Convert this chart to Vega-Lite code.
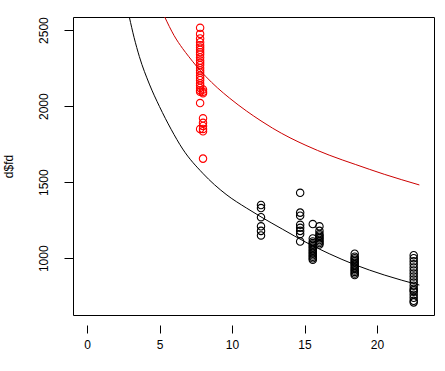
{
  "$schema": "https://vega.github.io/schema/vega-lite/v6.json",
  "autosize": "none",
  "width": 361,
  "height": 298,
  "padding": {"left": 73, "top": 17, "right": 11, "bottom": 56},
  "background": "white",
  "config": {
    "view": {"stroke": "black", "strokeWidth": 1},
    "font": "Liberation Sans",
    "axis": {"grid": false, "domain": false, "tickColor": "black", "labelColor": "black", "titleColor": "black", "labelFont": "Liberation Sans", "titleFont": "Liberation Sans", "labelFontSize": 12, "titleFontSize": 12, "titleFontWeight": "normal"}
  },
  "datasets": {
    "pts": [
      {"x": 7.8, "y": 2515, "g": "red"}, {"x": 7.8, "y": 2475, "g": "red"}, {"x": 7.8, "y": 2445, "g": "red"}, {"x": 7.8, "y": 2420, "g": "red"}, {"x": 7.8, "y": 2400, "g": "red"}, {"x": 7.8, "y": 2385, "g": "red"}, {"x": 7.8, "y": 2370, "g": "red"}, {"x": 7.8, "y": 2355, "g": "red"}, {"x": 7.8, "y": 2340, "g": "red"}, {"x": 7.8, "y": 2320, "g": "red"}, {"x": 7.8, "y": 2300, "g": "red"}, {"x": 7.8, "y": 2285, "g": "red"}, {"x": 7.8, "y": 2270, "g": "red"}, {"x": 7.8, "y": 2250, "g": "red"}, {"x": 7.8, "y": 2235, "g": "red"}, {"x": 7.8, "y": 2220, "g": "red"}, {"x": 7.8, "y": 2200, "g": "red"}, {"x": 7.8, "y": 2185, "g": "red"}, {"x": 7.8, "y": 2170, "g": "red"}, {"x": 7.8, "y": 2150, "g": "red"}, {"x": 7.8, "y": 2135, "g": "red"}, {"x": 7.8, "y": 2120, "g": "red"}, {"x": 7.8, "y": 2105, "g": "red"}, {"x": 7.8, "y": 2095, "g": "red"}, {"x": 7.8, "y": 2020, "g": "red"}, {"x": 7.8, "y": 1850, "g": "red"},
      {"x": 8.0, "y": 2110, "g": "red"}, {"x": 8.0, "y": 2095, "g": "red"}, {"x": 8.0, "y": 2085, "g": "red"}, {"x": 8.0, "y": 1920, "g": "red"}, {"x": 8.0, "y": 1890, "g": "red"}, {"x": 8.0, "y": 1870, "g": "red"}, {"x": 8.0, "y": 1850, "g": "red"}, {"x": 8.0, "y": 1835, "g": "red"}, {"x": 8.0, "y": 1655, "g": "red"},
      {"x": 12.0, "y": 1350, "g": "black"}, {"x": 12.0, "y": 1330, "g": "black"}, {"x": 12.0, "y": 1270, "g": "black"}, {"x": 12.0, "y": 1210, "g": "black"}, {"x": 12.0, "y": 1180, "g": "black"}, {"x": 12.0, "y": 1150, "g": "black"},
      {"x": 14.7, "y": 1430, "g": "black"}, {"x": 14.7, "y": 1300, "g": "black"}, {"x": 14.7, "y": 1280, "g": "black"}, {"x": 14.7, "y": 1220, "g": "black"}, {"x": 14.7, "y": 1200, "g": "black"}, {"x": 14.7, "y": 1180, "g": "black"}, {"x": 14.7, "y": 1160, "g": "black"}, {"x": 14.7, "y": 1110, "g": "black"},
      {"x": 15.57, "y": 1225, "g": "black"}, {"x": 15.57, "y": 1130, "g": "black"}, {"x": 15.57, "y": 1110, "g": "black"}, {"x": 15.57, "y": 1100, "g": "black"}, {"x": 15.57, "y": 1090, "g": "black"}, {"x": 15.57, "y": 1080, "g": "black"}, {"x": 15.57, "y": 1070, "g": "black"}, {"x": 15.57, "y": 1060, "g": "black"}, {"x": 15.57, "y": 1050, "g": "black"}, {"x": 15.57, "y": 1040, "g": "black"}, {"x": 15.57, "y": 1030, "g": "black"}, {"x": 15.57, "y": 1020, "g": "black"}, {"x": 15.57, "y": 1010, "g": "black"}, {"x": 15.57, "y": 1000, "g": "black"}, {"x": 15.57, "y": 990, "g": "black"},
      {"x": 16.03, "y": 1210, "g": "black"}, {"x": 16.03, "y": 1180, "g": "black"}, {"x": 16.03, "y": 1160, "g": "black"}, {"x": 16.03, "y": 1150, "g": "black"}, {"x": 16.03, "y": 1140, "g": "black"}, {"x": 16.03, "y": 1130, "g": "black"}, {"x": 16.03, "y": 1120, "g": "black"}, {"x": 16.03, "y": 1110, "g": "black"}, {"x": 16.03, "y": 1100, "g": "black"}, {"x": 16.03, "y": 1090, "g": "black"},
      {"x": 18.46, "y": 1030, "g": "black"}, {"x": 18.46, "y": 1010, "g": "black"}, {"x": 18.46, "y": 1000, "g": "black"}, {"x": 18.46, "y": 990, "g": "black"}, {"x": 18.46, "y": 980, "g": "black"}, {"x": 18.46, "y": 970, "g": "black"}, {"x": 18.46, "y": 960, "g": "black"}, {"x": 18.46, "y": 950, "g": "black"}, {"x": 18.46, "y": 940, "g": "black"}, {"x": 18.46, "y": 930, "g": "black"}, {"x": 18.46, "y": 920, "g": "black"}, {"x": 18.46, "y": 910, "g": "black"}, {"x": 18.46, "y": 900, "g": "black"}, {"x": 18.46, "y": 890, "g": "black"},
      {"x": 22.53, "y": 1020, "g": "black"}, {"x": 22.53, "y": 1000, "g": "black"}, {"x": 22.53, "y": 980, "g": "black"}, {"x": 22.53, "y": 960, "g": "black"}, {"x": 22.53, "y": 940, "g": "black"}, {"x": 22.53, "y": 920, "g": "black"}, {"x": 22.53, "y": 900, "g": "black"}, {"x": 22.53, "y": 880, "g": "black"}, {"x": 22.53, "y": 860, "g": "black"}, {"x": 22.53, "y": 840, "g": "black"}, {"x": 22.53, "y": 820, "g": "black"}, {"x": 22.53, "y": 800, "g": "black"}, {"x": 22.53, "y": 790, "g": "black"}, {"x": 22.53, "y": 780, "g": "black"}, {"x": 22.53, "y": 760, "g": "black"}, {"x": 22.53, "y": 740, "g": "black"}, {"x": 22.53, "y": 720, "g": "black"}, {"x": 22.53, "y": 710, "g": "black"}
    ],
    "curves": [
      {"x": 2.92, "y": 2585, "c": "black"}, {"x": 3.25, "y": 2450, "c": "black"}, {"x": 3.61, "y": 2326, "c": "black"}, {"x": 4.3, "y": 2145, "c": "black"}, {"x": 5.0, "y": 1997, "c": "black"}, {"x": 5.8, "y": 1848, "c": "black"}, {"x": 6.6, "y": 1718, "c": "black"}, {"x": 7.98, "y": 1559, "c": "black"}, {"x": 9.59, "y": 1420, "c": "black"}, {"x": 11.0, "y": 1330, "c": "black"}, {"x": 12.0, "y": 1272, "c": "black"}, {"x": 13.5, "y": 1190, "c": "black"}, {"x": 15.1, "y": 1105, "c": "black"}, {"x": 16.7, "y": 1030, "c": "black"}, {"x": 18.46, "y": 958, "c": "black"}, {"x": 20.5, "y": 890, "c": "black"}, {"x": 22.92, "y": 824, "c": "black"},
      {"x": 5.36, "y": 2586, "c": "red"}, {"x": 6.0, "y": 2465, "c": "red"}, {"x": 6.6, "y": 2378, "c": "red"}, {"x": 7.0, "y": 2328, "c": "red"}, {"x": 7.54, "y": 2264, "c": "red"}, {"x": 8.19, "y": 2195, "c": "red"}, {"x": 9.0, "y": 2120, "c": "red"}, {"x": 9.84, "y": 2052, "c": "red"}, {"x": 11.0, "y": 1968, "c": "red"}, {"x": 12.0, "y": 1903, "c": "red"}, {"x": 12.8, "y": 1855, "c": "red"}, {"x": 14.0, "y": 1792, "c": "red"}, {"x": 15.1, "y": 1742, "c": "red"}, {"x": 16.7, "y": 1678, "c": "red"}, {"x": 18.5, "y": 1617, "c": "red"}, {"x": 20.5, "y": 1552, "c": "red"}, {"x": 22.92, "y": 1482, "c": "red"}
    ]
  },
  "layer": [
    {
      "data": {"name": "pts"},
      "mark": {"type": "point", "shape": "circle", "filled": false, "size": 55, "strokeWidth": 1.1, "opacity": 1, "clip": true},
      "encoding": {
        "x": {"field": "x", "type": "quantitative", "scale": {"domain": [-0.966, 23.93], "nice": false, "zero": false},
          "axis": {"title": null, "values": [0, 5, 10, 15, 20], "offset": 10, "tickSize": 8, "labelPadding": 6, "labelBaseline": "top"}},
        "y": {"field": "y", "type": "quantitative", "scale": {"domain": [627, 2586], "nice": false, "zero": false},
          "axis": {"title": "d$fd", "format": "d", "values": [1000, 1500, 2000, 2500], "tickSize": 9, "labelAngle": 270, "labelAlign": "center", "labelBaseline": "bottom", "labelPadding": 14, "titlePadding": 22}},
        "stroke": {"field": "g", "type": "nominal", "scale": {"domain": ["red", "black"], "range": ["#ff0000", "#000000"]}, "legend": null}
      }
    },
    {
      "data": {"name": "curves"},
      "mark": {"type": "line", "strokeWidth": 1, "clip": true, "interpolate": "monotone"},
      "encoding": {
        "x": {"field": "x", "type": "quantitative"},
        "y": {"field": "y", "type": "quantitative"},
        "detail": {"field": "c", "type": "nominal"},
        "color": {"field": "c", "type": "nominal", "scale": {"domain": ["red", "black"], "range": ["#cc0000", "#000000"]}, "legend": null}
      }
    }
  ]
}
